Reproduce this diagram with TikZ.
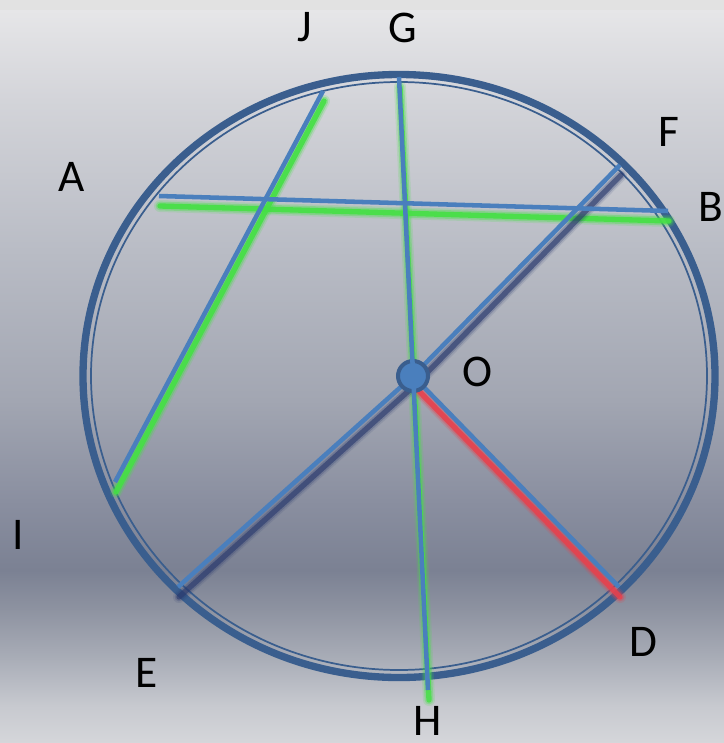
\documentclass[tikz,border=0pt]{standalone}
\usepackage{fontspec}
\usetikzlibrary{calc}
\setmainfont{Carlito}
\definecolor{ringc}{HTML}{3A5E8E}
\definecolor{linec}{HTML}{4A7FBD}
\definecolor{glowg}{HTML}{45E045}
\definecolor{glowr}{HTML}{E8404C}
\definecolor{glowd}{HTML}{2A3A6E}
\definecolor{bg0}{HTML}{E2E2E2}
\definecolor{bg1}{HTML}{E6E6E8}
\definecolor{bg2}{HTML}{D3D4D9}
\definecolor{bg3}{HTML}{B9BCC5}
\definecolor{bg4}{HTML}{A2A6B2}
\definecolor{bg5}{HTML}{8A8FA0}
\definecolor{bg6}{HTML}{7B8193}
\definecolor{bg7}{HTML}{8E93A1}
\definecolor{bg8}{HTML}{AAAEB8}
\definecolor{bg9}{HTML}{C7C9CF}
\definecolor{bg10}{HTML}{D5D6DA}
\tikzset{
  lbl/.style={font=\fontsize{34}{40}\selectfont, text=black, inner sep=0pt},
  seg/.style={draw=linec, line width=3.4pt},
  glowA/.style={line width=9pt, opacity=0.18*#1, line cap=round},
  glowB/.style={line width=6.5pt, opacity=0.35*#1, line cap=round},
  glowC/.style={line width=4pt, opacity=0.9*#1, line cap=round},
}
\newcommand{\glowline}[4]{%
  \foreach \s in {glowA,glowB,glowC}{
    \draw[#1,\s=#4] ($(#2)+(1,10)$) -- ($(#3)+(1,10)$);
  }}
\begin{document}
\begin{tikzpicture}[x=0.75pt,y=-0.75pt]
\useasboundingbox (0,0) rectangle (724,743);
\clip (0,0) rectangle (724,743);
% background
\fill[bg0] (0,0) rectangle (724,10);
\shade[top color=bg1, bottom color=bg2] (0,10) rectangle (724,100.5);
\shade[top color=bg2, bottom color=bg3] (0,100) rectangle (724,250.5);
\shade[top color=bg3, bottom color=bg4] (0,250) rectangle (724,400.5);
\shade[top color=bg4, bottom color=bg5] (0,400) rectangle (724,500.5);
\shade[top color=bg5, bottom color=bg6] (0,500) rectangle (724,570.5);
\shade[top color=bg6, bottom color=bg7] (0,570) rectangle (724,610.5);
\shade[top color=bg7, bottom color=bg8] (0,610) rectangle (724,660.5);
\shade[top color=bg8, bottom color=bg9] (0,660) rectangle (724,705.5);
\shade[top color=bg9, bottom color=bg10] (0,705) rectangle (724,743);

% points
\coordinate (Ac) at (159,196);
\coordinate (Bc) at (668,211);
\coordinate (Jc) at (323,91);
\coordinate (Ic) at (115,482);
\coordinate (Gc) at (399,77);
\coordinate (Hc) at (428,690);
\coordinate (Oc) at (413,376);
\coordinate (Fc) at (620,165);
\coordinate (Ec) at (178,587);
\coordinate (Dc) at (619,587);
\coordinate (Cc) at (399,376);

% ring
\draw[ringc, line width=5.5pt] (Cc) ellipse [x radius=316, y radius=301.5];
\draw[ringc, line width=1.3pt] (Cc) ellipse [x radius=308, y radius=294];

% shadows
\glowline{glowg}{Ac}{Bc}{1}
\glowline{glowg}{Jc}{Ic}{1}
\glowline{glowg}{Gc}{Hc}{0.9}
\glowline{glowd}{Oc}{Fc}{0.7}
\glowline{glowd}{Oc}{Ec}{0.7}
\glowline{glowr}{Oc}{Dc}{0.95}

% radii
\draw[seg] (Oc) -- (Fc);
\draw[seg] (Oc) -- (Ec);
\draw[seg] (Oc) -- (Dc);
% centre
\draw[ringc, fill=linec, line width=3pt] (Oc) circle [radius=15];
% chords
\draw[seg] (Gc) -- (Hc);
\draw[seg] (Ac) -- (Bc);
\draw[seg] (Jc) -- (Ic);

% labels
\node[lbl] (lJ) at (305,27) {J};
\node[lbl] (lG) at (403,28) {G};
\node[lbl] (lA) at (72,177) {A};
\node[lbl] (lF) at (669,132) {F};
\node[lbl] (lB) at (711,207) {B};
\node[lbl] (lO) at (478,372) {O};
\node[lbl] (lI) at (18,535) {I};
\node[lbl] (lE) at (147,673) {E};
\node[lbl] (lD) at (643,642) {D};
\node[lbl] (lH) at (428,721) {H};
\end{tikzpicture}
\end{document}
